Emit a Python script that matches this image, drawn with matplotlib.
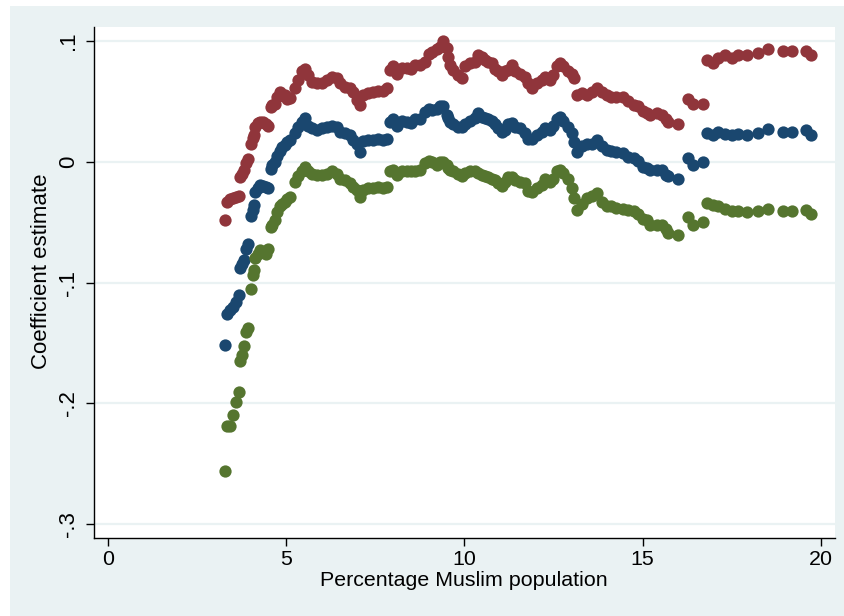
import matplotlib.pyplot as plt
from matplotlib.patches import Rectangle

# values
pct_muslim = [3.29, 3.33, 3.43, 3.50, 3.59, 3.67, 3.72, 3.77, 3.81, 3.87, 3.93, 4.02, 4.06, 4.09, 4.14,
              4.20, 4.27, 4.36, 4.44, 4.50, 4.58, 4.62, 4.69, 4.76, 4.83, 4.90, 4.97, 5.04, 5.11,
              5.25, 5.34, 5.44, 5.53, 5.62, 5.72, 5.86, 6.00, 6.14, 6.28, 6.42, 6.51, 6.65, 6.79,
              6.89, 6.98, 7.07, 7.17, 7.31, 7.45, 7.59, 7.73, 7.82, 7.92, 8.01, 8.10, 8.24, 8.38,
              8.50, 8.62, 8.76, 8.90, 9.00, 9.09, 9.23, 9.32, 9.41, 9.51, 9.55, 9.60, 9.69, 9.83,
              9.93, 10.02, 10.16, 10.30, 10.39, 10.49, 10.58, 10.67, 10.77, 10.86, 10.95, 11.05, 11.14, 11.23,
              11.33, 11.42, 11.56, 11.70, 11.80, 11.89, 12.03, 12.17, 12.26, 12.40, 12.50, 12.59, 12.68, 12.78,
              12.92, 13.01, 13.08, 13.15, 13.29, 13.43, 13.57, 13.71, 13.85, 13.99, 14.13, 14.27, 14.46, 14.60,
              14.75, 14.88, 15.02, 15.12, 15.21, 15.40, 15.54, 15.65, 15.72, 16.00, 16.28, 16.42, 16.70,
              16.80, 16.98, 17.13, 17.31, 17.50, 17.69, 17.92, 18.25, 18.53, 18.95, 19.18, 19.60, 19.74]

upper_ci = [-0.048, -0.033, -0.031, -0.030, -0.029, -0.028, -0.013, -0.010, -0.007, -0.001, 0.002, 0.015, 0.020, 0.022, 0.029,
            0.032, 0.033, 0.033, 0.031, 0.030, 0.045, 0.047, 0.048, 0.054, 0.058, 0.055, 0.055, 0.052, 0.053,
            0.061, 0.068, 0.075, 0.077, 0.072, 0.066, 0.065, 0.065, 0.068, 0.070, 0.069, 0.065, 0.062, 0.061,
            0.058, 0.051, 0.047, 0.055, 0.057, 0.058, 0.059, 0.059, 0.061, 0.076, 0.079, 0.073, 0.078, 0.078,
            0.077, 0.080, 0.080, 0.083, 0.089, 0.091, 0.093, 0.095, 0.100, 0.094, 0.087, 0.080, 0.076, 0.072,
            0.069, 0.079, 0.082, 0.083, 0.088, 0.087, 0.084, 0.083, 0.082, 0.077, 0.075, 0.072, 0.075, 0.076,
            0.080, 0.075, 0.073, 0.070, 0.065, 0.061, 0.065, 0.068, 0.070, 0.068, 0.072, 0.079, 0.082, 0.079,
            0.075, 0.073, 0.069, 0.055, 0.057, 0.055, 0.058, 0.061, 0.058, 0.055, 0.054, 0.054, 0.054, 0.050,
            0.047, 0.046, 0.042, 0.040, 0.039, 0.040, 0.039, 0.035, 0.033, 0.031, 0.052, 0.048, 0.048,
            0.084, 0.082, 0.086, 0.088, 0.086, 0.088, 0.088, 0.090, 0.093, 0.092, 0.092, 0.092, 0.088]

coef = [-0.152, -0.126, -0.123, -0.120, -0.116, -0.110, -0.088, -0.085, -0.081, -0.072, -0.068, -0.045, -0.040, -0.036, -0.025,
        -0.022, -0.019, -0.020, -0.021, -0.022, -0.006, -0.003, 0.000, 0.005, 0.009, 0.012, 0.014, 0.016, 0.018,
        0.024, 0.029, 0.033, 0.036, 0.030, 0.028, 0.026, 0.028, 0.029, 0.030, 0.029, 0.025, 0.024, 0.022,
        0.018, 0.015, 0.008, 0.017, 0.018, 0.018, 0.019, 0.018, 0.019, 0.033, 0.035, 0.030, 0.034, 0.033,
        0.032, 0.035, 0.035, 0.041, 0.044, 0.043, 0.044, 0.046, 0.046, 0.039, 0.036, 0.033, 0.031, 0.029,
        0.029, 0.031, 0.034, 0.036, 0.040, 0.037, 0.036, 0.035, 0.034, 0.031, 0.028, 0.025, 0.026, 0.031,
        0.032, 0.029, 0.028, 0.024, 0.019, 0.019, 0.022, 0.025, 0.028, 0.026, 0.030, 0.035, 0.037, 0.034,
        0.029, 0.024, 0.016, 0.008, 0.013, 0.015, 0.015, 0.018, 0.013, 0.010, 0.009, 0.008, 0.007, 0.004,
        0.003, 0.001, -0.004, -0.005, -0.007, -0.007, -0.007, -0.011, -0.012, -0.014, 0.003, -0.003, 0.000,
        0.024, 0.022, 0.025, 0.023, 0.022, 0.023, 0.022, 0.024, 0.027, 0.025, 0.025, 0.026, 0.022]

lower_ci = [-0.256, -0.219, -0.219, -0.210, -0.199, -0.191, -0.165, -0.160, -0.153, -0.141, -0.138, -0.105, -0.094, -0.090, -0.080,
            -0.076, -0.073, -0.075, -0.076, -0.072, -0.054, -0.052, -0.048, -0.042, -0.037, -0.035, -0.033, -0.031, -0.029,
            -0.017, -0.012, -0.008, -0.004, -0.008, -0.010, -0.011, -0.011, -0.010, -0.008, -0.010, -0.014, -0.015, -0.018,
            -0.021, -0.023, -0.029, -0.023, -0.022, -0.022, -0.021, -0.022, -0.021, -0.008, -0.007, -0.011, -0.008, -0.008,
            -0.008, -0.008, -0.007, -0.001, 0.001, 0.000, -0.003, 0.000, 0.000, -0.003, -0.005, -0.007, -0.008, -0.010,
            -0.012, -0.009, -0.008, -0.008, -0.009, -0.011, -0.012, -0.013, -0.014, -0.015, -0.018, -0.020, -0.017, -0.013,
            -0.013, -0.015, -0.017, -0.018, -0.024, -0.025, -0.022, -0.019, -0.014, -0.017, -0.014, -0.008, -0.007, -0.009,
            -0.014, -0.022, -0.030, -0.040, -0.035, -0.030, -0.028, -0.026, -0.033, -0.037, -0.037, -0.038, -0.039, -0.040,
            -0.041, -0.043, -0.047, -0.048, -0.052, -0.052, -0.052, -0.056, -0.059, -0.061, -0.046, -0.052, -0.050,
            -0.034, -0.036, -0.037, -0.039, -0.041, -0.041, -0.042, -0.041, -0.039, -0.041, -0.041, -0.040, -0.043]

x_ticks = [0, 5, 10, 15, 20]
y_ticks = [0.1, 0, -0.1, -0.2, -0.3]
y_tick_labels = [".1", "0", "-.1", "-.2", "-.3"]

plt.rcParams['font.family'] = ['Liberation Sans', 'DejaVu Sans']

W, H = 845, 616
fig = plt.figure(figsize=(W / 100, H / 100), dpi=100, facecolor="white")
# light blue graph region, with a thin white border on the top and left
fig.patches.append(Rectangle((10 / W, 0), (W - 10) / W, (H - 6) / H, transform=fig.transFigure,
                             facecolor="#EAF2F3", edgecolor="none", zorder=-10))

ax = fig.add_axes([94 / W, 78 / H, 741 / W, 511 / H])
ax.set_facecolor("white")

ax.scatter(pct_muslim, upper_ci, s=78, color="#90353B", linewidths=0, zorder=3)
ax.scatter(pct_muslim, coef, s=78, color="#1A476F", linewidths=0, zorder=3)
ax.scatter(pct_muslim, lower_ci, s=78, color="#55752F", linewidths=0, zorder=3)

ax.set_xlim(-0.387, 20.40)
ax.set_ylim(-0.3116, 0.1116)

ax.set_xticks(x_ticks)
ax.set_xticklabels([str(t) for t in x_ticks])
ax.set_yticks(y_ticks)
ax.set_yticklabels(y_tick_labels, rotation=90, va="center")

ax.set_axisbelow(True)
ax.yaxis.grid(True, color="#EAF2F3", linewidth=1.6)

for side in ["top", "right"]:
    ax.spines[side].set_visible(False)
for side in ["left", "bottom"]:
    ax.spines[side].set_color("black")
    ax.spines[side].set_linewidth(1.0)

ax.tick_params(axis="both", length=5.8, width=1, color="black")
ax.tick_params(axis="x", pad=3, labelsize=15.4)
ax.tick_params(axis="y", pad=5, labelsize=16)

fig.text(464 / W, 1 - 581 / H, "Percentage Muslim population", ha="center", va="center", fontsize=15.4)
fig.text(42 / W, 1 - 271 / H, "Coefficient estimate", ha="center", va="center", rotation=90, fontsize=16)

fig.savefig("out.png", dpi=100, facecolor=fig.get_facecolor())
